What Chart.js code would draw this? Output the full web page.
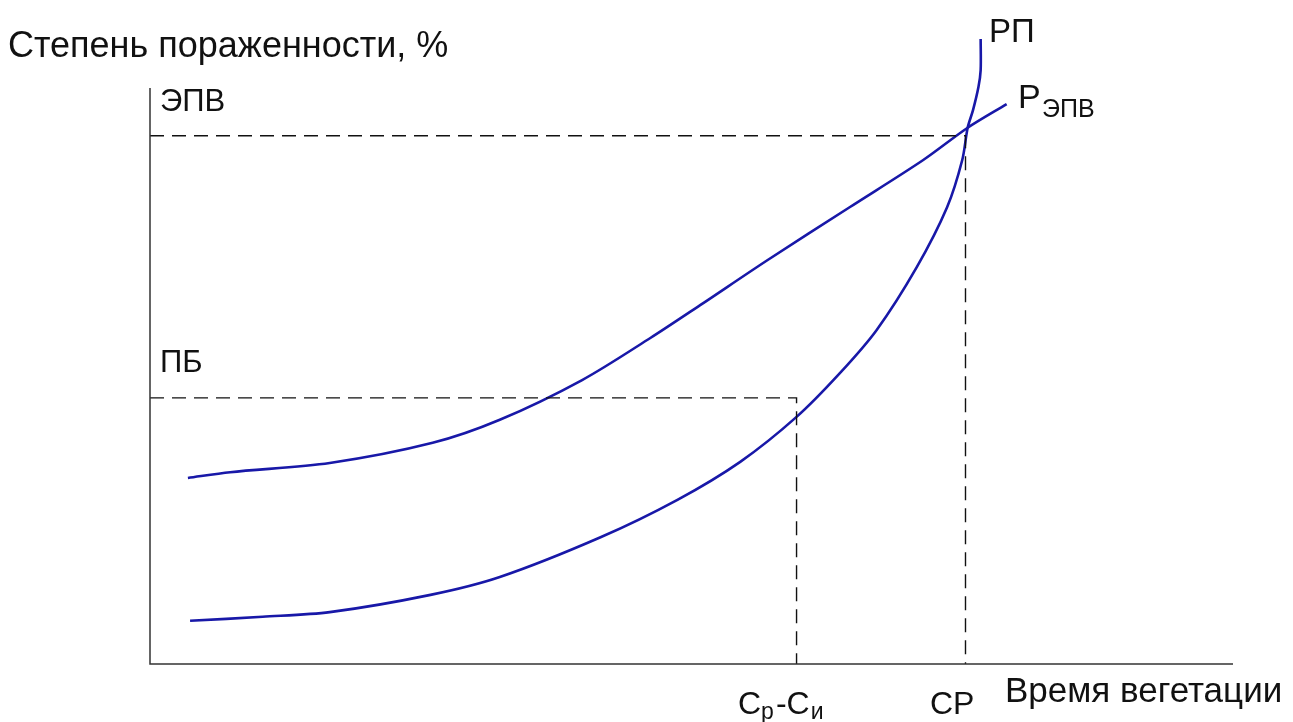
<!DOCTYPE html>
<html>
<head>
<meta charset="utf-8">
<script src="https://cdn.jsdelivr.net/npm/chart.js@4.4.1/dist/chart.umd.min.js"></script>
<style>
  html, body { margin: 0; padding: 0; background: #fff; }
  canvas { display: block; }
</style>
</head>
<body>
<canvas id="damageChart" width="1293" height="722"></canvas>
<script>
// time of vegetation (0..100) and degree of damage (0..100)
const epvTime = [3.5, 7.4, 16.6, 26.1, 32.3, 39.9, 46.2, 50.8, 57.0, 64.6, 71.4, 75.5, 79.1];
const epvDamage = [32.3, 33.3, 34.9, 38.4, 42.4, 49.3, 56.6, 62.3, 70.1, 79.3, 87.5, 93.1, 97.2];

const rpTime = [3.7, 10.4, 16.6, 25.9, 32.3, 41.6, 48.7, 54.5, 59.7, 63.7, 67.1, 70.8, 73.6, 75.0, 75.5, 76.0, 76.5, 76.7, 76.7];
const rpDamage = [7.5, 8.2, 9.0, 12.0, 15.1, 22.0, 28.5, 35.1, 42.9, 50.5, 58.0, 68.9, 79.3, 87.5, 93.1, 96.2, 100.2, 103.1, 108.5];

// threshold levels
const epvLevel = 91.7;   // ЭПВ
const pbLevel = 46.2;    // ПБ
const cpTime = 75.3;     // СР
const crCiTime = 59.7;   // Ср-Си

function toPoints(xs, ys) {
  return xs.map((x, i) => ({ x: x, y: ys[i] }));
}

const labelsPlugin = {
  id: 'labels',
  afterDraw(chart) {
    const ctx = chart.ctx;
    ctx.save();
    ctx.fillStyle = '#111';
    ctx.textBaseline = 'alphabetic';
    const font = (s) => s + 'px "Liberation Sans", Arial, sans-serif';

    ctx.font = font(36);
    ctx.fillText('Степень пораженности, %', 8, 57);

    ctx.font = font(31);
    ctx.fillText('ЭПВ', 160, 111);
    ctx.fillText('ПБ', 160, 372);

    ctx.font = font(33);
    ctx.fillText('РП', 989, 42);

    ctx.font = font(34);
    ctx.fillText('Р', 1018, 108);
    ctx.font = font(25);
    ctx.fillText('ЭПВ', 1042, 117);

    // Ср-Си
    let x = 738;
    ctx.font = font(32);
    ctx.fillText('С', x, 714); x += ctx.measureText('С').width;
    ctx.font = font(23);
    ctx.fillText('р', x, 719); x += ctx.measureText('р').width + 2;
    ctx.font = font(32);
    ctx.fillText('-С', x, 714); x += ctx.measureText('-С').width + 1;
    ctx.font = font(23);
    ctx.fillText('и', x, 719);

    ctx.font = font(32);
    ctx.fillText('СР', 930, 714);

    ctx.font = font(35);
    ctx.fillText('Время вегетации', 1005, 702);
    ctx.restore();
  }
};

const blue = '#1818a8';
const dash = [14, 8];

new Chart(document.getElementById('damageChart'), {
  type: 'scatter',
  data: {
    datasets: [
      {
        label: 'axes',
        data: [{ x: 0, y: 100 }, { x: 0, y: 0 }, { x: 100, y: 0 }],
        showLine: true,
        borderColor: '#333',
        borderWidth: 1.5,
        pointRadius: 0,
        clip: false,
      },
      {
        label: 'ЭПВ',
        data: [{ x: 0, y: epvLevel }, { x: cpTime, y: epvLevel }, { x: cpTime, y: 0 }],
        showLine: true,
        borderColor: '#111',
        borderWidth: 1.4,
        borderDash: dash,
        pointRadius: 0,
      },
      {
        label: 'ПБ',
        data: [{ x: 0, y: pbLevel }, { x: crCiTime, y: pbLevel }, { x: crCiTime, y: 0 }],
        showLine: true,
        borderColor: '#111',
        borderWidth: 1.4,
        borderDash: dash,
        pointRadius: 0,
      },
      {
        label: 'Р ЭПВ',
        data: toPoints(epvTime, epvDamage),
        showLine: true,
        borderColor: blue,
        borderWidth: 2.6,
        tension: 0.3,
        pointRadius: 0,
        clip: false,
      },
      {
        label: 'РП',
        data: toPoints(rpTime, rpDamage),
        showLine: true,
        borderColor: blue,
        borderWidth: 2.6,
        tension: 0.3,
        pointRadius: 0,
        clip: false,
      },
    ],
  },
  options: {
    responsive: false,
    animation: false,
    layout: {
      padding: { left: 150, right: 60, top: 88, bottom: 58 },
    },
    scales: {
      x: { type: 'linear', min: 0, max: 100, display: false },
      y: { type: 'linear', min: 0, max: 100, display: false },
    },
    plugins: {
      legend: { display: false },
      tooltip: { enabled: false },
    },
  },
  plugins: [labelsPlugin],
});
</script>
</body>
</html>
